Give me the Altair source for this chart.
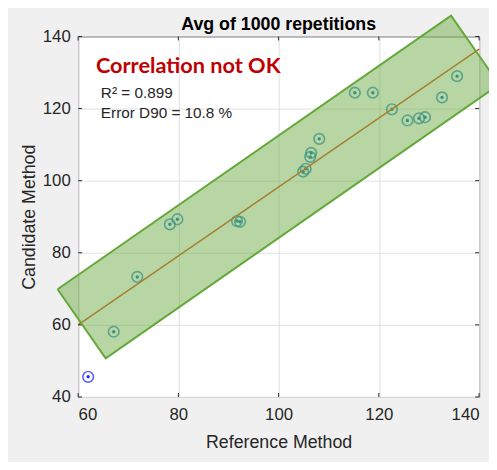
import altair as alt
import pandas as pd

# ---- data ----
ref_method = [62.0, 67.1, 71.8, 78.3, 79.8, 91.7, 92.3, 104.9, 105.4, 106.3,
              106.5, 108.1, 115.2, 118.8, 122.6, 125.7, 128.0, 129.2, 132.6, 135.6]
cand_method = [45.6, 58.1, 73.3, 87.9, 89.3, 88.8, 88.6, 102.5, 103.3, 106.6,
               107.7, 111.6, 124.4, 124.4, 119.8, 116.7, 117.3, 117.6, 123.1, 129.0]
point_group = ["outlier"] + ["normal"] * 19

fit_x = [60, 140]
fit_y = [60.0, 136.5]

# acceptance band (rotated rectangle) corners
band_x = [55.9, 65.5, 134.4, 144.0]
band_top = [69.9, 79.1, 145.8, 126.7]
band_bottom = [69.9, 50.7, 117.4, 126.7]
corner_x = [55.9, 134.4, 144.0, 65.5, 55.9]
corner_y = [69.9, 145.8, 126.7, 50.7, 69.9]

x_ticks = [60, 80, 100, 120, 140]
y_ticks = [40, 60, 80, 100, 120, 140]

title_text = ["Avg of 1000 repetitions"]
verdict_text = ["Correlation not OK"]
r2_text = ["R\u00b2 = 0.899"]
err_text = ["Error D90 = 10.8 %"]

# ---- tables ----
pts = pd.DataFrame({"x": ref_method, "y": cand_method, "g": point_group})
fit = pd.DataFrame({"x": fit_x, "y": fit_y})
band = pd.DataFrame({"x": band_x, "y": band_top, "y2": band_bottom})
border = pd.DataFrame({"x": corner_x, "y": corner_y, "i": list(range(len(corner_x)))})
xt = pd.DataFrame({"x": x_ticks})
yt = pd.DataFrame({"y": y_ticks})

FONT = "Liberation Sans"
W, H = 406, 365
xs = alt.Scale(domain=[60, 140], nice=False, zero=False)
ys = alt.Scale(domain=[40, 140], nice=False, zero=False)

X = alt.X("x:Q", scale=xs, axis=alt.Axis(
    values=x_ticks, title="Reference Method", ticks=False, domain=False,
    grid=True, gridColor="#e0e0e0", labelFontSize=17, titleFontSize=18,
    labelFont=FONT, titleFont=FONT, labelColor="#262626", titleColor="#262626",
    titleFontWeight="normal", labelPadding=10, titlePadding=11))
Y = alt.Y("y:Q", scale=ys, axis=alt.Axis(
    values=y_ticks, title="Candidate Method", ticks=False, domain=False,
    grid=True, gridColor="#e0e0e0", labelFontSize=17, titleFontSize=18,
    labelFont=FONT, titleFont=FONT, labelColor="#262626", titleColor="#262626",
    titleFontWeight="normal", labelPadding=8, titlePadding=4))

circles = alt.Chart(pts).mark_point(shape="circle", filled=False, size=115, strokeWidth=1.7).encode(
    x=X, y=Y,
    color=alt.Color("g:N", scale=alt.Scale(domain=["outlier", "normal"], range=["#2a2aff", "#0072BD"]), legend=None))
dots = alt.Chart(pts).mark_point(shape="circle", filled=True, size=12, opacity=1).encode(
    x="x:Q", y="y:Q",
    color=alt.Color("g:N", scale=alt.Scale(domain=["outlier", "normal"], range=["#ff0000", "#D95319"]), legend=None))
fit_line = alt.Chart(fit).mark_line(color="#D95319", strokeWidth=1.5).encode(x="x:Q", y="y:Q")

# inward MATLAB-style ticks on all four sides
tick_style = dict(color="#262626", strokeWidth=1)
t_bottom = alt.Chart(xt).mark_rule(**tick_style).encode(x="x:Q", y=alt.value(H), y2=alt.value(H - 4))
t_top = alt.Chart(xt).mark_rule(**tick_style).encode(x="x:Q", y=alt.value(0), y2=alt.value(4))
t_left = alt.Chart(yt).mark_rule(**tick_style).encode(y="y:Q", x=alt.value(0), x2=alt.value(4))
t_right = alt.Chart(yt).mark_rule(**tick_style).encode(y="y:Q", x=alt.value(W), x2=alt.value(W - 4))

band_area = alt.Chart(band).mark_area(clip=False, color="#70AD47", fillOpacity=0.5).encode(
    x="x:Q", y="y:Q", y2="y2:Q")
band_border = alt.Chart(border).mark_line(clip=False, color="#64a83a", strokeWidth=2).encode(
    x="x:Q", y="y:Q", order="i:Q")

title = alt.Chart(pd.DataFrame({"t": title_text})).mark_text(
    align="center", baseline="alphabetic", font=FONT, fontWeight="bold", fontSize=18, color="#000000"
).encode(x=alt.value(W / 2), y=alt.value(-7), text="t:N")
verdict = alt.Chart(pd.DataFrame({"t": verdict_text})).mark_text(
    align="left", baseline="alphabetic", font="Lato", fontWeight="bold", fontSize=22, color="#C00000"
).encode(x=alt.value(18), y=alt.value(37), text="t:N")
r2 = alt.Chart(pd.DataFrame({"t": r2_text})).mark_text(
    align="left", baseline="alphabetic", font=FONT, fontSize=15.5, color="#262626"
).encode(x=alt.value(23), y=alt.value(62), text="t:N")
err = alt.Chart(pd.DataFrame({"t": err_text})).mark_text(
    align="left", baseline="alphabetic", font=FONT, fontSize=15.5, color="#262626"
).encode(x=alt.value(23), y=alt.value(83), text="t:N")

chart = alt.layer(circles, dots, fit_line, t_bottom, t_top, t_left, t_right,
                  band_area, band_border, title, verdict, r2, err).properties(
    width=W, height=H,
    autosize=alt.AutoSizeParams(type="none"),
    padding={"left": 71, "top": 26, "right": 10, "bottom": 63},
    background="#f0f0f0",
).configure_view(fill="white", stroke="#333333", strokeWidth=1)

chart.save("out.html", embed_options={"renderer": "svg", "actions": False})
